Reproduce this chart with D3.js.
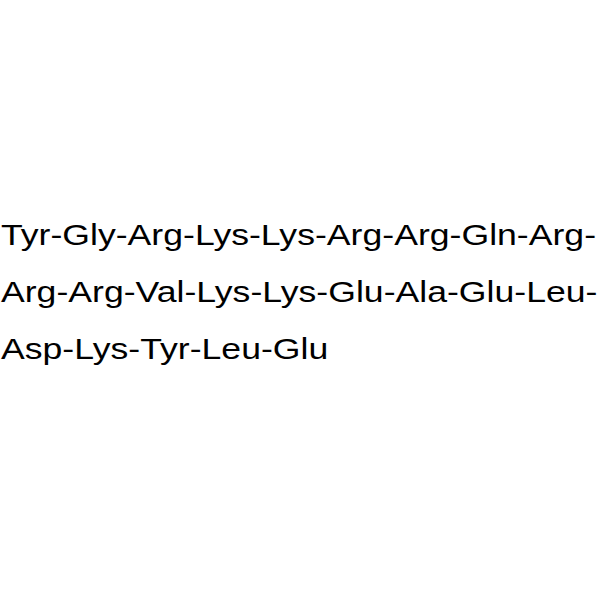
<!DOCTYPE html>
<html>
<head>
<meta charset="utf-8">
<script src="https://cdn.jsdelivr.net/npm/d3@7"></script>
<style>
	body { margin: 0; background: #fff; }
</style>
</head>
<body>
<svg width="600" height="600"></svg>
<script>
// Residues of the peptide, in order.
var residues = ["Tyr", "Gly", "Arg", "Lys", "Lys", "Arg", "Arg", "Gln", "Arg",
	"Arg", "Arg", "Val", "Lys", "Lys", "Glu", "Ala", "Glu", "Leu",
	"Asp", "Lys", "Tyr", "Leu", "Glu"];

// How many residues sit on each printed line.
var line_counts = [9, 9, 5];

// Build the text of each line.
var lines = [];
var start = 0;
line_counts.forEach(function(n, i) {
	var part = residues.slice(start, start + n).join("-");
	start += n;
	if (start < residues.length) part += "-";
	lines.push(part);
});

var svg = d3.select("svg");

// Baseline positions for the lines.
var y = d3.scalePoint()
	.domain(d3.range(lines.length))
	.range([245.5, 359.5]);

// The glyphs in the picture are stretched sideways, so scale the group.
svg.append("g")
	.attr("transform", "scale(1.246,1)")
	.selectAll("text")
	.data(lines)
	.enter()
	.append("text")
	.attr("x", 0.8)
	.attr("y", function(d, i) {
		return y(i);
	})
	.attr("font-family", "Arial, 'Liberation Sans', sans-serif")
	.attr("font-size", 28.6)
	.attr("fill", "#000")
	.text(function(d) {
		return d;
	});
</script>
</body>
</html>
